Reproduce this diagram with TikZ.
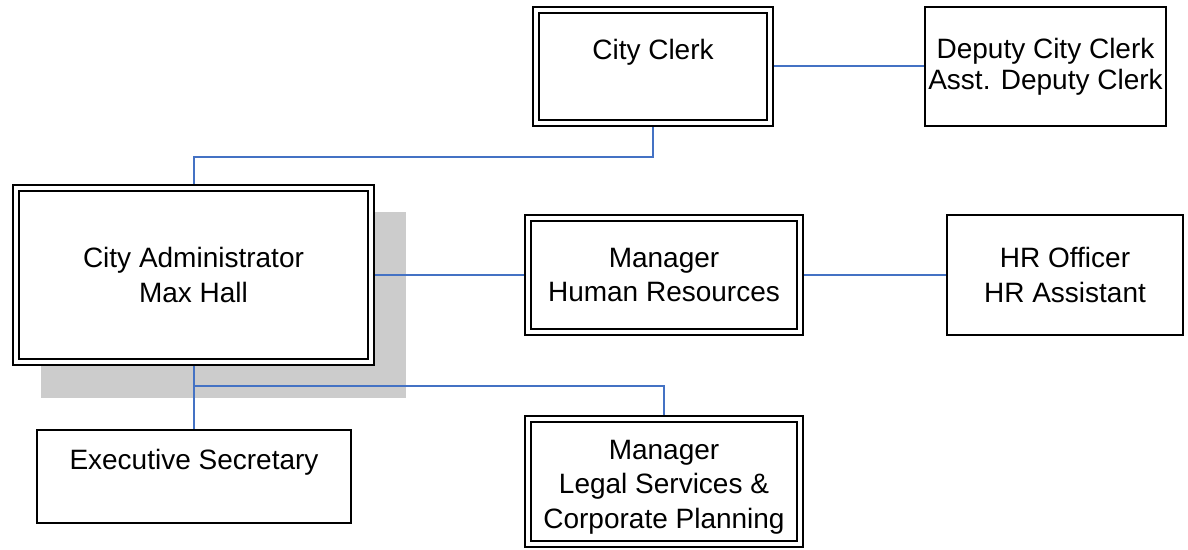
\documentclass[tikz,border=0pt]{standalone}
\usepackage{fontspec}
\setmainfont{Liberation Sans}
\usepackage{tikz}
\usetikzlibrary{positioning, backgrounds}
\definecolor{linkblue}{HTML}{4472C4}
\definecolor{shadegray}{HTML}{CCCCCC}
\tikzstyle{dblock} = [rectangle, draw, fill=white, double=white, double distance=1.6pt,
line width=1.2pt, align=center, inner sep=0pt]
\tikzstyle{sblock} = [rectangle, draw, fill=white, line width=1pt, align=center, inner sep=0pt]
\tikzstyle{link} = [draw=linkblue, line width=1pt]

\begin{document}
\begin{tikzpicture}[x=0.5pt, y=-0.5pt]
    \tikzstyle{every node}=[font=\fontsize{14}{17.25}\selectfont]
    \useasboundingbox (0,0) rectangle (1188,550);
	\node (Clerk) [dblock, minimum width=117pt, minimum height=56.5pt] at (653,66.5) {City Clerk\\\mbox{}};
	\node (Deputy) [sblock, minimum width=120.5pt, minimum height=59.5pt, node distance=196.25pt, right of=Clerk, font=\fontsize{14}{15.5}\selectfont] {Deputy City Clerk\\Asst. Deputy Clerk};
	\node (Admin) [dblock, minimum width=177.5pt, minimum height=87pt] at (193.5,275) {City Administrator\\Max Hall};
	\node (HRMgr) [dblock, minimum width=136pt, minimum height=57pt, node distance=235.25pt, right of=Admin] {Manager\\Human Resources};
	\node (HROff) [sblock, minimum width=118pt, minimum height=60pt, node distance=200.5pt, right of=HRMgr] {HR Officer\\HR Assistant};
	\node (Exec) [sblock, minimum width=157pt, minimum height=46.5pt, node distance=100.75pt, below of=Admin, xshift=0.25pt] {Executive Secretary\\\mbox{}};
	\node (Legal) [dblock, minimum width=136pt, minimum height=62.5pt, node distance=103.25pt, below of=HRMgr] {\rule{0pt}{15pt}Manager\\Legal Services \&\\Corporate Planning};

    \begin{scope}[on background layer]
    % shadow behind the administrator
    \fill [shadegray] ([shift={(26,35)}]Admin.south west) rectangle ([shift={(34,25)}]Admin.north east);
	\draw [link] (Clerk) -- (Deputy);
	\draw [link] (Clerk.south) -- ++(0,33) -| (Admin.north);
	\draw [link] (Admin) -- (HRMgr);
	\draw [link] (HRMgr) -- (HROff);
	\draw [link] (Admin.south) -- (Admin.south |- Exec.north);
	\draw [link] (Admin.south) -- ++(0,23) -| (Legal.north);
    \end{scope}
\end{tikzpicture}
\end{document}
